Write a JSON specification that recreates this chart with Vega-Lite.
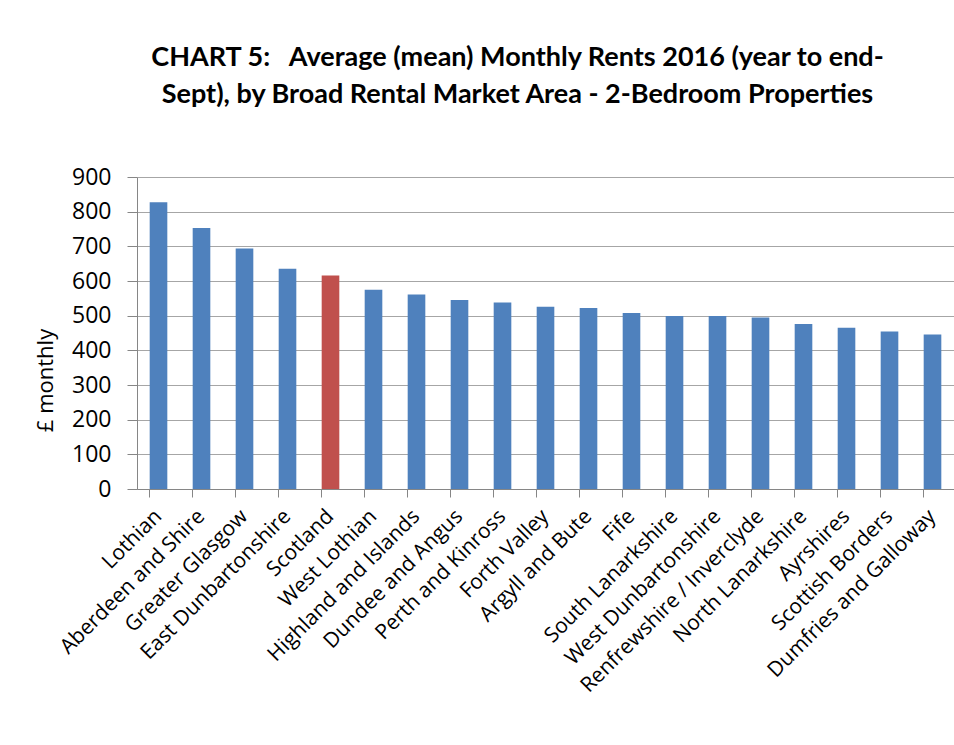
{
  "$schema": "https://vega.github.io/schema/vega-lite/v6.json",
  "autosize": "none",
  "width": 817,
  "height": 312,
  "padding": {"left": 137, "top": 177, "right": 0, "bottom": 256},
  "background": "white",
  "title": {
    "text": ["CHART 5:\u00a0\u00a0 Average (mean) Monthly Rents 2016 (year to end-", "Sept), by Broad Rental Market Area - 2-Bedroom Properties"],
    "font": "Lato",
    "fontSize": 27,
    "fontWeight": "bold",
    "color": "#000000",
    "lineHeight": 37,
    "anchor": "middle",
    "dx": -28,
    "offset": 57
  },
  "data": {
    "values": [
      {"area": "Lothian", "rent": 827},
      {"area": "Aberdeen and Shire", "rent": 753},
      {"area": "Greater Glasgow", "rent": 694},
      {"area": "East Dunbartonshire", "rent": 635},
      {"area": "Scotland", "rent": 616},
      {"area": "West Lothian", "rent": 575},
      {"area": "Highland and Islands", "rent": 561},
      {"area": "Dundee and Angus", "rent": 545},
      {"area": "Perth and Kinross", "rent": 538},
      {"area": "Forth Valley", "rent": 526},
      {"area": "Argyll and Bute", "rent": 522},
      {"area": "Fife", "rent": 508},
      {"area": "South Lanarkshire", "rent": 499},
      {"area": "West Dunbartonshire", "rent": 499},
      {"area": "Renfrewshire / Inverclyde", "rent": 495},
      {"area": "North Lanarkshire", "rent": 476},
      {"area": "Ayrshires", "rent": 465},
      {"area": "Scottish Borders", "rent": 454},
      {"area": "Dumfries and Galloway", "rent": 446}
    ]
  },
  "mark": {"type": "bar"},
  "encoding": {
    "x": {
      "field": "area",
      "type": "nominal",
      "sort": null,
      "scale": {"paddingInner": 0.59, "paddingOuter": 0.295},
      "axis": {
        "title": null,
        "labelAngle": -45,
        "labelAlign": "right",
        "labelBaseline": "middle",
        "labelFont": "Open Sans",
        "labelFontSize": 21,
        "labelColor": "#000000",
        "labelPadding": 16,
        "labelOverlap": false,
        "labelLimit": 400,
        "domainColor": "#868686",
        "tickColor": "#868686",
        "tickSize": 8,
        "bandPosition": 0,
        "grid": false
      }
    },
    "y": {
      "field": "rent",
      "type": "quantitative",
      "scale": {"domain": [0, 900], "nice": false},
      "axis": {
        "title": "£ monthly",
        "titleFont": "Open Sans",
        "titleFontSize": 22,
        "titleFontWeight": "normal",
        "titleColor": "#000000",
        "titleAngle": 270,
        "titleBaseline": "middle",
        "titleAlign": "center",
        "titleX": -92,
        "titleY": 203,
        "values": [0, 100, 200, 300, 400, 500, 600, 700, 800, 900],
        "labelFont": "Open Sans",
        "labelFontSize": 23,
        "labelColor": "#000000",
        "labelPadding": 16,
        "tickSize": 10,
        "tickColor": "#868686",
        "domainColor": "#868686",
        "gridColor": "#a6a6a6",
        "gridWidth": 1.2
      }
    },
    "color": {
      "condition": {"test": "datum.area === 'Scotland'", "value": "#C0504D"},
      "value": "#4F81BD"
    }
  },
  "config": {
    "view": {"stroke": null}
  }
}
